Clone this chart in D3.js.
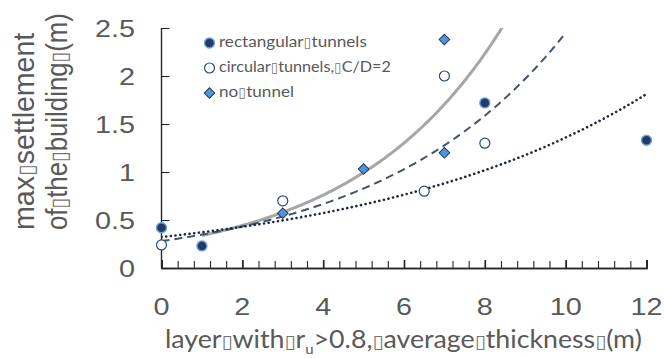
<!DOCTYPE html>
<html><head><meta charset="utf-8">
<script src="https://cdn.jsdelivr.net/npm/d3@7"></script>
<style>html,body{margin:0;padding:0;background:#fff;overflow:hidden}</style>
</head><body><svg id="chart" width="664" height="358"></svg>
<script>
// Measured points for the three configurations
const rectX = [0, 1, 8, 12];
const rectY = [0.42, 0.23, 1.72, 1.33];
const circX = [0, 3, 6.5, 7, 8];
const circY = [0.24, 0.70, 0.80, 2.00, 1.30];
const noneX = [3, 5, 7, 7];
const noneY = [0.57, 1.03, 1.20, 2.38];

// Span over which each exponential trend line is drawn
const rectRange = [0, 12];
const circRange = [0, 10];
const noneRange = [1, 9];

const xTicks = [0, 2, 4, 6, 8, 10, 12];
const xTickLabels = ["0", "2", "4", "6", "8", "10", "12"];
const yTicks = [0, 0.5, 1, 1.5, 2, 2.5];
const yTickLabels = ["0", "0.5", "1", "1.5", "2", "2.5"];
const legendLabels = ["rectangular\u25AFtunnels", "circular\u25AFtunnels,\u25AFC/D=2", "no\u25AFtunnel"];
const yTitleLines = ["max\u25AFsettlement", "of\u25AFthe\u25AFbuilding\u25AF(m)"];
const xTitleParts = ["layer\u25AFwith\u25AFr", "u", ">0.8,\u25AFaverage\u25AFthickness\u25AF(m)"];

const svg = d3.select("#chart");
const x = d3.scaleLinear().domain([0, 12]).range([161.5, 646.5]);
const y = d3.scaleLinear().domain([0, 2.5]).range([268, 28]);

const TXT = "#595959";
const NAVY = "#1F3C6B";
const BOX = "\u25AF";

// Stretch a text element horizontally about x0 so that it spans `target` px
function fitWidth(t, x0, target) {
  const w = t.node().getBBox().width;
  const s = target / w;
  t.attr("transform", `translate(${x0},0) scale(${s},1) translate(${-x0},0)`);
}
function stretchBy(t, x0, s) {
  t.attr("transform", `translate(${x0},0) scale(${s},1) translate(${-x0},0)`);
}
// Write a string into a text element, drawing the box glyphs smaller;
// `dy` is applied to the first run only
function writeRuns(t, str, boxScale, dy) {
  let first = true;
  str.split(BOX).forEach((seg, i) => {
    if (i > 0) {
      const b = t.append("tspan").attr("font-size", `${boxScale}em`)
        .attr("font-family", "DejaVu Sans").attr("fill-opacity", 0.85).text(BOX);
      if (first && dy) b.attr("dy", dy);
      first = false;
    }
    if (seg) {
      const s = t.append("tspan").text(seg);
      if (first && dy) s.attr("dy", dy);
      first = false;
    }
  });
}

// Exponential least-squares fit (linear fit of ln y)
function expFit(xs, ys) {
  const n = xs.length;
  const ly = ys.map(Math.log);
  const mx = d3.mean(xs), my = d3.mean(ly);
  let sxy = 0, sxx = 0;
  for (let i = 0; i < n; i++) { sxy += (xs[i] - mx) * (ly[i] - my); sxx += (xs[i] - mx) ** 2; }
  const b = sxy / sxx;
  const a = Math.exp(my - b * mx);
  return v => a * Math.exp(b * v);
}

svg.append("defs").append("clipPath").attr("id", "plotClip")
  .append("rect").attr("x", x(0)).attr("y", y(2.5)).attr("width", x(12) - x(0)).attr("height", y(0) - y(2.5));

// Axes: ticks drawn inward, labels placed separately
const minorTicks = d3.range(0, 12.0001, 0.4).map(v => +v.toFixed(2));
const gxMinor = svg.append("g").attr("transform", `translate(0,${y(0)})`)
  .call(d3.axisBottom(x).tickValues(minorTicks).tickSize(-7).tickFormat(""));
const gxMajor = svg.append("g").attr("transform", `translate(0,${y(0)})`)
  .call(d3.axisBottom(x).tickValues(xTicks).tickSize(-8).tickFormat(""));
const gy = svg.append("g").attr("transform", `translate(${x(0)},0)`)
  .call(d3.axisLeft(y).tickValues(yTicks).tickSize(-8).tickFormat(""));
[gxMinor, gxMajor, gy].forEach(g => {
  g.selectAll("path.domain").attr("stroke", "#262626").attr("stroke-width", 1.4);
  g.selectAll(".tick line").attr("stroke", "#262626").attr("stroke-width", 1.1);
});
gxMajor.selectAll(".tick line").attr("stroke-width", 1.6);
gy.select("path.domain").attr("d", `M0,${y(0)}V${y(2.5)}`);

// Tick labels
xTicks.forEach((v, i) => {
  const t = svg.append("text").attr("x", x(v)).attr("y", 315).attr("text-anchor", "middle")
    .attr("font-family", "Liberation Sans, Arial, sans-serif").attr("font-size", 24).attr("fill", TXT)
    .text(xTickLabels[i]);
  stretchBy(t, x(v), 1.2);
});
yTicks.forEach((v, i) => {
  const t = svg.append("text").attr("x", 135).attr("y", y(v) + 9).attr("text-anchor", "end")
    .attr("font-family", "Liberation Sans, Arial, sans-serif").attr("font-size", 24).attr("fill", TXT)
    .text(yTickLabels[i]);
  stretchBy(t, 135, 1.2);
});

// Trend lines
const plot = svg.append("g").attr("clip-path", "url(#plotClip)");
const line = d3.line().x(d => x(d[0])).y(d => y(d[1]));
function trend(xs, ys, range) {
  const f = expFit(xs, ys);
  return d3.range(0, 201).map(i => { const v = range[0] + (range[1] - range[0]) * i / 200; return [v, f(v)]; });
}
plot.append("path").attr("d", line(trend(noneX, noneY, noneRange)))
  .attr("fill", "none").attr("stroke", "#A6A6A6").attr("stroke-width", 3);
plot.append("path").attr("d", line(trend(circX, circY, circRange)))
  .attr("fill", "none").attr("stroke", "#44546A").attr("stroke-width", 2).attr("stroke-dasharray", "8,5");
plot.append("path").attr("d", line(trend(rectX, rectY, rectRange)))
  .attr("fill", "none").attr("stroke", "#1E2A40").attr("stroke-width", 2.6)
  .attr("stroke-dasharray", "0.1,4.6").attr("stroke-linecap", "round");

// Markers
function drawRect(g, cx, cy) {
  g.append("circle").attr("cx", cx).attr("cy", cy).attr("r", 5)
    .attr("fill", NAVY).attr("stroke", "#6FA3D8").attr("stroke-width", 1.4);
}
function drawCirc(g, cx, cy) {
  g.append("circle").attr("cx", cx).attr("cy", cy).attr("r", 5)
    .attr("fill", "#fff").attr("stroke", "#2E4A78").attr("stroke-width", 1.2);
}
function drawDiamond(g, cx, cy) {
  g.append("path").attr("d", d3.symbol().type(d3.symbolSquare).size(56)())
    .attr("transform", `translate(${cx},${cy}) rotate(45)`)
    .attr("fill", "#5593D8").attr("stroke", "#1F3C6B").attr("stroke-width", 1);
}
const marks = svg.append("g");
circX.forEach((v, i) => drawCirc(marks, x(v), y(circY[i])));
noneX.forEach((v, i) => drawDiamond(marks, x(v), y(noneY[i])));
rectX.forEach((v, i) => drawRect(marks, x(v), y(rectY[i])));

// Legend
const legendY = [47, 72, 97];
const legendW = [148, 172, 75];
const drawers = [drawRect, drawCirc, drawDiamond];
legendLabels.forEach((lab, i) => {
  drawers[i](svg, 209.5, legendY[i] - 4);
  const t = svg.append("text").attr("x", 219).attr("y", legendY[i])
    .attr("font-family", "Lato, sans-serif").attr("font-size", 16).attr("fill", TXT);
  writeRuns(t, lab, 0.85);
  fitWidth(t, 219, legendW[i]);
});

// Axis titles
const xt = svg.append("text").attr("x", 165).attr("y", 348)
  .attr("font-family", "Lato, sans-serif").attr("font-size", 25).attr("fill", TXT);
writeRuns(xt, xTitleParts[0], 0.75);
xt.append("tspan").attr("font-size", 14).attr("dy", 6).text(xTitleParts[1]);
writeRuns(xt, xTitleParts[2], 0.75, -6);
fitWidth(xt, 165, 477);

const yBase = [34, 67];
const yLen = [198, 217];
yTitleLines.forEach((s, i) => {
  const g = svg.append("g").attr("transform", `translate(${yBase[i]},230) rotate(-90)`);
  const t = g.append("text").attr("x", 0).attr("y", 0)
    .attr("font-family", "Liberation Sans, Arial, sans-serif").attr("font-size", 30).attr("fill", TXT);
  writeRuns(t, s, 0.75);
  fitWidth(t, 0, yLen[i]);
});
</script></body></html>
